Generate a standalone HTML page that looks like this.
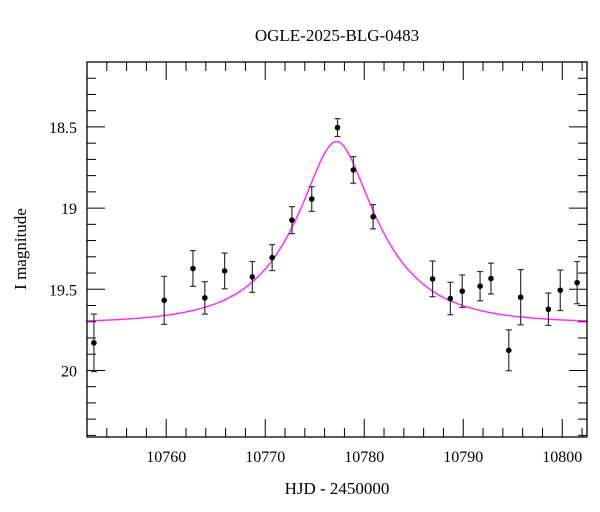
<!DOCTYPE html>
<html><head><meta charset="utf-8"><style>
html,body{margin:0;padding:0;background:#fff}
svg{display:block}
text{font-family:"Liberation Serif",serif;fill:#000}
</style></head><body>
<svg id="chart" width="600" height="512" viewBox="0 0 600 512">
<text x="337" y="41" text-anchor="middle" font-size="17">OGLE-2025-BLG-0483</text>
<text x="337" y="494" text-anchor="middle" font-size="17">HJD - 2450000</text>
<text transform="translate(26,249) rotate(-90)" text-anchor="middle" font-size="17">I magnitude</text>
<g id="axes"></g>
<g id="model"></g>
<g id="points"></g>
<rect x="87" y="62" width="500" height="375" fill="none" stroke="#000" stroke-width="1.3"/>
</svg>
<script>
const times = [10752.7,10759.8,10762.7,10763.9,10765.9,10768.7,10770.7,10772.7,10774.7,10777.3,10778.9,10780.9,10786.9,10788.7,10789.9,10791.7,10792.8,10794.6,10795.8,10798.6,10799.8,10801.5];
const mags = [19.83,19.568,19.372,19.553,19.387,19.424,19.305,19.074,18.944,18.504,18.765,19.053,19.436,19.557,19.512,19.481,19.434,19.876,19.549,19.623,19.506,19.459];
const errs = [0.177,0.148,0.11,0.10,0.11,0.095,0.08,0.083,0.076,0.055,0.082,0.075,0.11,0.10,0.10,0.09,0.095,0.126,0.17,0.10,0.125,0.13];
const modelParams = [10777.2, 0.375, 8.0, 19.71]; // t0, u0, tE, baseline mag
const xTicks = [10760,10770,10780,10790,10800];
const yTicks = [18.5,19,19.5,20];
const yTickLabels = ["18.5","19","19.5","20"];

const X0=87,X1=587,Y0=62,Y1=437;
const xMin=10752.0,xMax=10802.5,yMin=18.10,yMax=20.41;
const xs=t=>X0+(t-xMin)/(xMax-xMin)*(X1-X0);
const ys=m=>Y0+(m-yMin)/(yMax-yMin)*(Y1-Y0);
const NS="http://www.w3.org/2000/svg";
function mk(tag,attrs,parent){const e=document.createElementNS(NS,tag);for(const k in attrs)e.setAttribute(k,attrs[k]);parent.appendChild(e);return e;}
const axes=document.getElementById('axes');
// x ticks
for(let t=10754;t<=10802;t+=2){
  const major=(t%10===0);const L=major?18:9;const x=xs(t);
  const a=mk('line',{x1:x,x2:x,y1:Y1,y2:Y1-L,stroke:'#000','stroke-width':1},axes);
  
  
  const b=mk('line',{x1:x,x2:x,y1:Y0,y2:Y0+L,stroke:'#000','stroke-width':1},axes);
  
  
}
xTicks.forEach(t=>{
  const tx=mk('text',{x:xs(t),y:462,'text-anchor':'middle','font-size':16},axes);
  tx.textContent=t;
  
  
});
// y ticks
for(let i=181;i<=204;i++){
  const m=i/100*10/10;const major=(i%5===0);const L=major?18:9;const y=ys(i/10);
  if(y<Y0+1||y>Y1-1)continue;
  const a=mk('line',{x1:X0,x2:X0+L,y1:y,y2:y,stroke:'#000','stroke-width':1},axes);
  
  
  const b=mk('line',{x1:X1,x2:X1-L,y1:y,y2:y,stroke:'#000','stroke-width':1},axes);
  
  
}
yTicks.forEach((m,i)=>{
  const tx=mk('text',{x:77,y:ys(m)+6,'text-anchor':'end','font-size':16},axes);
  tx.textContent=yTickLabels[i];
  
  
});
// model
const [t0,u0,tE,base]=modelParams;
let d='';
for(let px=X0;px<=X1;px+=1){
  const t=xMin+(px-X0)/(X1-X0)*(xMax-xMin);
  const u=Math.sqrt(u0*u0+((t-t0)/tE)**2);
  const A=(u*u+2)/(u*Math.sqrt(u*u+4));
  const m=base-2.5*Math.log10(A);
  d+=(px===X0?'M':'L')+px+','+ys(m).toFixed(2);
}
const ml=mk('path',{d:d,fill:'none',stroke:'#ff22ff','stroke-width':1.4},document.getElementById('model'));


// points
const pg=document.getElementById('points');
times.forEach((t,i)=>{
  const x=xs(t),y=ys(mags[i]),ya=ys(mags[i]-errs[i]),yb=ys(mags[i]+errs[i]);
  const g=mk('g',{stroke:'#333','stroke-width':1.2},pg);
  
  
  mk('line',{x1:x,x2:x,y1:ya,y2:yb},g);
  mk('line',{x1:x-3,x2:x+3,y1:ya,y2:ya},g);
  mk('line',{x1:x-3,x2:x+3,y1:yb,y2:yb},g);
  mk('circle',{cx:x,cy:y,r:2.8,fill:'#000',stroke:'none'},g);
});
</script>
</body></html>
